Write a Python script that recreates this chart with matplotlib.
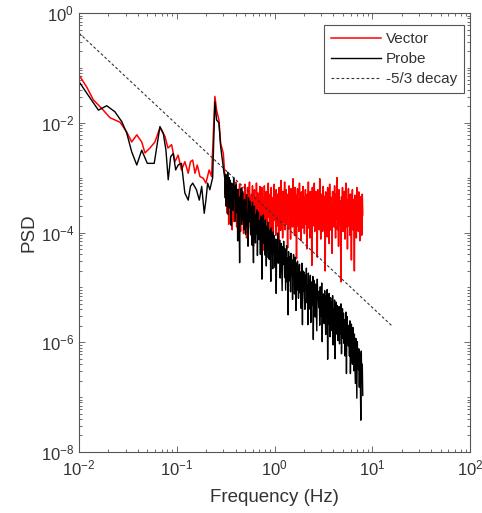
import numpy as np
import matplotlib
matplotlib.use("Agg")
import matplotlib.pyplot as plt
from matplotlib.ticker import LogLocator, NullFormatter, FixedLocator

plt.rcParams['font.family'] = ['Liberation Sans', 'DejaVu Sans']
plt.rcParams['mathtext.fontset'] = 'custom'
plt.rcParams['mathtext.rm'] = 'Liberation Sans'

# ---------------- data (log10 PSD x100) ----------------
# low-frequency part, Vector (red)
red_lo_f = [0.010, 0.012, 0.014, 0.0177, 0.0208, 0.0263, 0.0308, 0.0346, 0.039, 0.0438,
            0.0473, 0.0532, 0.0598, 0.0673, 0.0758, 0.0812, 0.0886, 0.0958, 0.1033, 0.1118,
            0.121, 0.131, 0.138, 0.1456, 0.1537, 0.1622, 0.1727, 0.1866, 0.1988, 0.2145,
            0.227, 0.2456, 0.2556, 0.27, 0.281, 0.2997]
red_lo_v = [-113, -135, -158, -177, -191, -199, -217, -235, -222, -235,
            -255, -246, -235, -209, -225, -246, -240, -271, -259, -286,
            -271, -292, -271, -268, -292, -277, -298, -301, -310, -286,
            -298, -152, -177, -195, -237, -256]

# low-frequency part, Probe (black)
blk_lo_f = [0.010, 0.012, 0.0158, 0.0192, 0.0233, 0.0274, 0.0308, 0.0346, 0.039, 0.0438,
            0.050, 0.0588, 0.0673, 0.0728, 0.0775, 0.0818, 0.0866, 0.092, 0.0975, 0.1034,
            0.1118, 0.121, 0.131, 0.138, 0.1456, 0.159, 0.170, 0.180, 0.191, 0.1988,
            0.207, 0.218, 0.233, 0.2456, 0.2556, 0.27, 0.281, 0.2997]
blk_lo_v = [-125, -146, -177, -169, -180, -198, -219, -253, -277, -250,
            -274, -274, -207, -219, -250, -304, -262, -256, -286, -277,
            -274, -328, -341, -316, -310, -322, -341, -316, -365, -341,
            -310, -322, -300, -162, -195, -200, -243, -282]

# high-frequency part (0.31 - 8 Hz, log-spaced grid)
hi_f_start, hi_f_end = 0.31, 8.0
red_hi_v = [
    -295, -330, -308, -352, -318, -365, -322, -340, -385, -328, -305, -358, -372, -320, -348, -395, -335, -312, -362, -380,
    -330, -372, -345, -308, -390, -352, -322, -415, -360, -335, -312, -375, -398, -340, -362, -318, -385, -350, -402, -328,
    -352, -312, -380, -335, -410, -345, -318, -368, -392, -325, -308, -372, -350, -405, -332, -362, -315, -388, -425, -340,
    -322, -370, -338, -398, -310, -358, -385, -328, -352, -412, -335, -316, -378, -345, -395, -318, -365, -340, -432, -350,
    -315, -375, -340, -390, -325, -360, -402, -335, -310, -372, -348, -418, -330, -365, -318, -392, -345, -440, -336, -362,
    -312, -378, -342, -405, -322, -365, -388, -330, -352, -420, -318, -375, -345, -396, -305, -362, -335, -410, -325, -380,
    -340, -308, -395, -355, -322, -385, -348, -428, -330, -368, -315, -392, -352, -412, -320, -366, -338, -390, -302, -375,
    -345, -405, -318, -362, -332, -448, -352, -320, -388, -340, -398, -310, -372, -346, -415, -326, -360, -392, -316, -378,
    -336, -402, -352, -322, -385, -342, -430, -330, -368, -308, -392, -350, -410, -325, -375, -345, -460, -318, -362, -388,
    -332, -310, -398, -358, -325, -380, -348, -445, -322, -370, -340, -395, -302, -362, -412, -330, -382, -345, -398, -316,
    -360, -334, -388, -470, -326, -372, -350, -408, -318, -385, -342, -420, -312, -368, -335, -396, -352, -438, -325, -380,
    -338, -390, -315, -362, -410, -330, -375, -300, -395, -350, -425, -322, -385, -342, -402, -490, -335, -370, -318, -398,
    -345, -380, -325, -412, -358, -310, -390, -340, -430, -365, -320, -388, -348, -405, -330, -375, -450, -352, -322, -395,
    -340, -368, -470, -332, -385, -355, -410, -318, -378, -346, -398, -326, -362, -415, -335, -382, -352, -405, -330, -368]
blk_hi_v = [
    -302, -337, -294, -352, -307, -327, -290, -367, -320, -300,
    -355, -305, -335, -387, -310, -345, -317, -360, -300, -330,
    -317, -380, -347, -313, -363, -330, -415, -321, -353, -373,
    -455, -335, -367, -320, -385, -353, -325, -378, -342, -395,
    -340, -375, -403, -347, -331, -390, -367, -425, -337, -381,
    -370, -343, -403, -380, -353, -423, -345, -395, -455, -357,
    -352, -395, -419, -367, -402, -359, -442, -382, -363, -413,
    -412, -378, -440, -370, -398, -485, -374, -420, -368, -404,
    -393, -441, -377, -419, -461, -389, -429, -381, -446, -403,
    -449, -396, -424, -489, -392, -439, -404, -466, -399, -434,
    -406, -438, -464, -412, -511, -420, -448, -401, -456, -434,
    -453, -414, -483, -443, -420, -468, -506, -426, -458, -416,
    -438, -482, -430, -505, -460, -424, -490, -446, -550, -435,
    -488, -444, -468, -508, -438, -478, -450, -522, -465, -440,
    -465, -512, -445, -490, -542, -456, -505, -452, -482, -520,
    -490, -458, -510, -472, -538, -498, -456, -568, -470, -506,
    -472, -515, -540, -478, -505, -465, -528, -495, -568, -474,
    -540, -486, -508, -478, -564, -520, -490, -532, -480, -595,
    -487, -527, -503, -554, -494, -539, -579, -485, -521, -511,
    -537, -507, -569, -499, -525, -553, -492, -599, -513, -541,
    -512, -566, -506, -541, -586, -516, -554, -504, -631, -532,
    -567, -511, -547, -590, -519, -557, -527, -579, -515, -605,
    -539, -571, -523, -630, -555, -527, -585, -533, -563, -597,
    -570, -535, -603, -545, -585, -530, -621, -559, -539, -593,
    -547, -602, -559, -625, -579, -545, -657, -553, -592, -575,
    -607, -569, -625, -561, -657, -595, -567, -615, -640, -573,
    -597, -652, -585, -627, -675, -593, -642, -702, -599, -635,
    -650, -612, -682, -620, -662, -742, -616, -672, -640, -697]

# -5/3 reference decay
decay_coef = 2.0e-4
decay_f_range = [0.01, 16.0]

series_labels = ["Vector", "Probe", "-5/3 decay"]
x_label = "Frequency (Hz)"
y_label = "PSD"
x_major_ticks = [1e-2, 1e-1, 1e0, 1e1, 1e2]
y_major_ticks = [1e-8, 1e-6, 1e-4, 1e-2, 1e0]

# ---------------- build arrays ----------------
hi_f = np.geomspace(hi_f_start, hi_f_end, len(red_hi_v))
red_f = np.concatenate([red_lo_f, hi_f])
red_p = 10.0 ** (np.concatenate([red_lo_v, red_hi_v]) / 100.0)
blk_f = np.concatenate([blk_lo_f, hi_f])
blk_p = 10.0 ** (np.concatenate([blk_lo_v, blk_hi_v]) / 100.0)
dec_f = np.geomspace(decay_f_range[0], decay_f_range[1], 50)
dec_p = decay_coef * dec_f ** (-5.0 / 3.0)

# ---------------- plot ----------------
W, H = 482, 513
fig = plt.figure(figsize=(W / 100, H / 100), dpi=100)
ax = fig.add_axes([79 / W, 1 - 452 / H, (470 - 79) / W, (452 - 13) / H])

tc = '#333333'
ax.plot(red_f, red_p, color='#ff0000', lw=1.1, label=series_labels[0])
ax.plot(blk_f, blk_p, color='black', lw=1.0, label=series_labels[1])
ax.plot(dec_f, dec_p, color='#333333', lw=0.8, dashes=(2.5, 2.0), label=series_labels[2])

ax.set_xscale('log')
ax.set_yscale('log')
ax.set_xlim(1e-2, 1e2)
ax.set_ylim(1e-8, 1e0)

ax.xaxis.set_major_locator(FixedLocator(x_major_ticks))
ax.xaxis.set_minor_locator(LogLocator(base=10, subs=np.arange(2, 10), numticks=100))
ax.xaxis.set_minor_formatter(NullFormatter())
ax.yaxis.set_major_locator(FixedLocator(y_major_ticks))
ax.yaxis.set_minor_locator(LogLocator(base=10, subs=np.arange(1, 10), numticks=100))
ax.yaxis.set_minor_formatter(NullFormatter())

ax.tick_params(which='both', direction='in', top=True, right=True, colors='#555555',
               labelcolor=tc, labelsize=12, width=0.6)
ax.tick_params(which='major', length=4)
ax.tick_params(which='minor', length=2)
ax.tick_params(axis='x', pad=5)
for s in ax.spines.values():
    s.set_color('#555555')
    s.set_linewidth(0.8)

ax.set_xlabel(x_label, fontsize=13.5, color=tc, labelpad=7)
ax.set_ylabel(y_label, fontsize=13.5, color=tc, labelpad=2)

leg = ax.legend(loc='upper right', bbox_to_anchor=((464 - 79) / 391, (452 - 25) / 439),
                borderaxespad=0, fancybox=False, framealpha=1, edgecolor='#555555',
                fontsize=11, handlelength=3.3, handletextpad=0.3, labelspacing=0.4,
                borderpad=0.45)
leg.get_frame().set_linewidth(0.8)
for t in leg.get_texts():
    t.set_color(tc)

fig.savefig('out.png', dpi=100)
